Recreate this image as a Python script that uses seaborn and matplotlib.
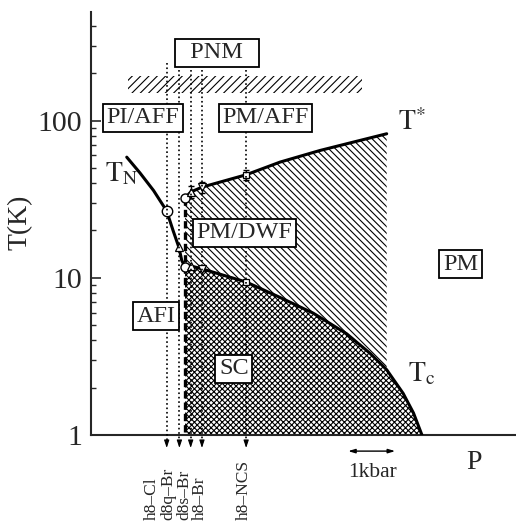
import numpy as np
import matplotlib
matplotlib.use("Agg")
import matplotlib.pyplot as plt
import seaborn as sns

# pressure in kbar (from left edge of the axis), temperature in K
tn_p = [0.76, 1.04, 1.33, 1.61, 1.745, 1.87, 1.93, 2.0]
tn_T = [58.5, 46.5, 35.9, 26.6, 20.0, 15.6, 12.9, 11.7]

ts_p = [2.0, 2.12, 2.36, 3.30, 4.02, 4.87, 5.57, 6.29]
ts_T = [32.1, 35.1, 37.7, 45.2, 54.4, 64.5, 72.8, 82.4]

tc_p = [2.0, 2.12, 2.36, 3.30, 4.02, 4.73, 5.44, 5.94, 6.29, 6.64, 6.86, 7.04]
tc_T = [11.7, 11.9, 11.4, 9.4, 7.5, 5.95, 4.4, 3.3, 2.6, 1.84, 1.38, 1.0]

# data points
circ_p = [1.61, 2.0, 2.0]
circ_T = [26.6, 32.1, 11.7]
up_p = [1.88, 2.12, 2.12]
up_T = [15.6, 35.1, 11.9]
dn_p = [2.36, 2.36]
dn_T = [37.7, 11.4]
sq_p = [3.30, 3.30]
sq_T = [45.2, 9.4]
err_p = [2.12, 2.36, 3.30]
err_T = [35.1, 37.7, 45.2]
err_dT = [3.0, 3.0, 3.5]

compounds = ["h8–Cl", "d8q–Br", "d8s–Br", "h8–Br", "h8–NCS"]
comp_p = [1.61, 1.88, 2.12, 2.36, 3.30]
comp_top = [233, 211, 211, 211, 211]

pnm_p = [0.79, 5.77]
pnm_T = [150, 193]

regions = ["  PNM  ", "PI/AFF", "PM/AFF", "PM/DWF", "AFI", "SC", "PM"]
region_p = [2.68, 1.10, 3.71, 3.26, 1.38, 3.04, 7.86]
region_T = [270, 103.8, 103.8, 19.3, 5.7, 2.64, 12.2]

sns.set_style("ticks")
plt.rcParams['font.family'] = ['Liberation Serif', 'DejaVu Serif']
plt.rcParams['mathtext.fontset'] = 'stix'
plt.rcParams['hatch.linewidth'] = 0.8

fig = plt.figure(figsize=(5.16, 5.25), dpi=100)
ax = fig.add_axes([0.1764, 0.1714, 0.8217, 0.8057])
ax.set_yscale('log')
ax.set_xlim(0, 9.02)
ax.set_ylim(1, 490)

# shaded regions
ax.fill_between(tc_p, 1, tc_T, facecolor='none', edgecolor='k', hatch='xxxxxx', linewidth=0, zorder=1)
tc_arr = np.array(tc_p)
cut = tc_arr <= ts_p[-1]
poly_p = np.concatenate([ts_p, tc_arr[cut][::-1]])
poly_T = np.concatenate([ts_T, np.array(tc_T)[cut][::-1]])
ax.fill(poly_p, poly_T, facecolor='none', edgecolor='k', hatch='\\\\\\\\\\', linewidth=0, zorder=1)
ax.fill_between(pnm_p, pnm_T[0], pnm_T[1], facecolor='none', edgecolor='k', hatch='////', linewidth=0, zorder=1)

# phase lines
for px, py in [(tn_p, tn_T), (ts_p, ts_T), (tc_p, tc_T)]:
    sns.lineplot(x=px, y=py, ax=ax, color='k', lw=2.2, sort=False, estimator=None, zorder=3)
ax.plot([2.0, 2.0], [ts_T[0], 1], color='k', lw=2.4, ls=(0, (2.2, 1.2)), zorder=3)

# markers
ax.errorbar(err_p, err_T, yerr=err_dT, fmt='none', ecolor='k', elinewidth=0.9, capsize=2, zorder=4)
ax.plot(circ_p[:1], circ_T[:1], 'o', ms=7.5, mfc='white', mec='k', mew=1.0, zorder=4)
ax.plot(circ_p[1:], circ_T[1:], 'o', ms=6.5, mfc='white', mec='k', mew=1.0, zorder=4)
ax.plot(up_p, up_T, '^', ms=5.5, mfc='white', mec='k', mew=0.9, zorder=4)
ax.plot(dn_p, dn_T, 'v', ms=5.5, mfc='white', mec='k', mew=0.9, zorder=4)
ax.plot(sq_p, sq_T, 's', ms=4.5, mfc='white', mec='k', mew=0.9, zorder=4)

# compound guides with arrows under the axis
label_dx = [-10.6, -8.2, -4.8, -1.4, -1.5]
for name, p, top, dx in zip(compounds, comp_p, comp_top, label_dx):
    ax.plot([p, p], [top, 0.9], color='k', ls=':', lw=1.2, clip_on=False, zorder=5)
    ax.annotate('', xy=(p, 0.827), xytext=(p, 0.91),
                arrowprops=dict(arrowstyle='-|>,head_length=0.45,head_width=0.15',
                                color='k', lw=0.8, shrinkA=0, shrinkB=0),
                annotation_clip=False)
    ax.annotate(name, xy=(p, 0.288), xytext=(dx, 0), textcoords='offset points',
                rotation=90, ha='center', va='bottom', fontsize=12.5, annotation_clip=False)

# region labels
for txt, p, t in zip(regions, region_p, region_T):
    ax.text(p, t, txt, ha='center', va='center', fontsize=17.5, zorder=6,
            bbox=dict(boxstyle='square,pad=0.15', fc='white', ec='k', lw=1.3))

ax.text(0.66, 45.4, r'$\mathrm{T}_\mathrm{N}$', fontsize=20, ha='center', va='center')
ax.text(6.82, 96.4, r'$\mathrm{T}^{*}$', fontsize=20, ha='center', va='center')
ax.text(7.04, 2.44, r'$\mathrm{T}_\mathrm{c}$', fontsize=20, ha='center', va='center')

# pressure scale and axis name
ax.annotate('', xy=(5.47, 0.79), xytext=(6.47, 0.79),
            arrowprops=dict(arrowstyle='<|-|>,head_length=0.4,head_width=0.12',
                            color='k', lw=1.0, shrinkA=0, shrinkB=0),
            annotation_clip=False)
ax.text(5.98, 0.574, '1kbar', fontsize=15.5, ha='center', va='center', clip_on=False)
ax.text(8.15, 0.664, 'P', fontsize=20, ha='center', va='center', clip_on=False)

# axes styling
sns.despine(ax=ax)
for s in ['left', 'bottom']:
    ax.spines[s].set_linewidth(1.5)
ax.set_xticks([])
ax.set_yticks([1, 10, 100])
ax.set_yticklabels(['1', '10', '100'])
ax.yaxis.set_minor_formatter(matplotlib.ticker.NullFormatter())
ax.tick_params(axis='y', which='major', direction='in', length=7, width=1.2, pad=6.5, labelsize=21.5)
ax.tick_params(axis='y', which='minor', direction='in', length=3.5, width=1.0)
ax.set_ylabel('T(K)', fontsize=20)
ax.yaxis.set_label_coords(-0.137, 0.503)

fig.savefig('out.png', dpi=100)
